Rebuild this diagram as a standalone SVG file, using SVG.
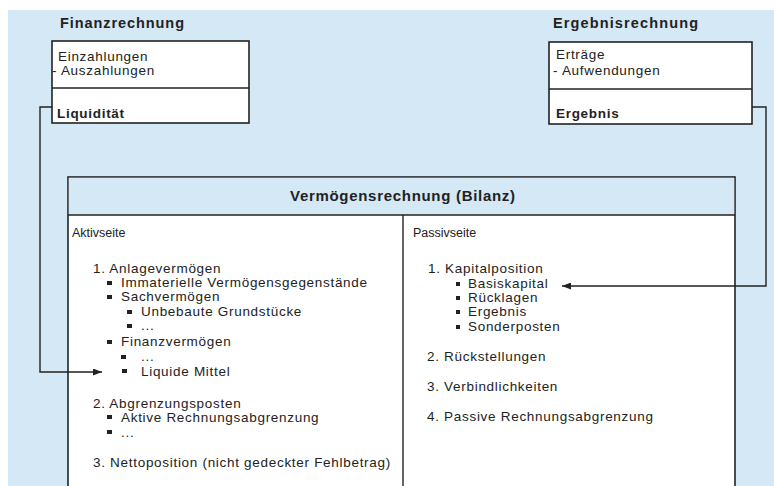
<svg xmlns="http://www.w3.org/2000/svg" width="774" height="486" viewBox="0 0 774 486">
<defs>
<style>
text{font-family:"Liberation Sans",Arial,sans-serif;font-size:13.5px;letter-spacing:0.7px;fill:#222}
.b{font-weight:bold}
.t{font-weight:bold;font-size:14.5px;letter-spacing:0}
.s{font-size:12.5px;letter-spacing:0}
.box{fill:#fff;stroke:#222;stroke-width:1.6}
.ln{fill:none;stroke:#222;stroke-width:1.4}
.bl{fill:#222}
</style>
<marker id="ah" markerWidth="9" markerHeight="7" refX="9" refY="3.5" orient="auto" markerUnits="userSpaceOnUse">
<path d="M0,0 L9,3.5 L0,7 Z" fill="#222"/>
</marker>
</defs>
<rect x="8" y="10" width="766" height="476" fill="#d4e8f6"/>
<g id="finanzrechnung">
<text x="60" y="28" class="t" textLength="124" lengthAdjust="spacing">Finanzrechnung</text>
<rect class="box" x="52" y="41" width="197" height="82"/>
<line class="ln" x1="52" y1="88" x2="249" y2="88"/>
<text x="58" y="61">Einzahlungen</text>
<text x="52" y="75">- Auszahlungen</text>
<text x="57" y="118" class="b">Liquidität</text>
</g>
<g id="ergebnisrechnung">
<text x="553" y="28" class="t" textLength="145" lengthAdjust="spacing">Ergebnisrechnung</text>
<rect class="box" x="549" y="42" width="203" height="82"/>
<line class="ln" x1="549" y1="89" x2="752" y2="89"/>
<text x="556" y="59">Erträge</text>
<text x="553" y="75">- Aufwendungen</text>
<text x="556" y="118" class="b">Ergebnis</text>
</g>
<g id="bilanz">
<rect class="box" x="68" y="177" width="667" height="320"/>
<rect x="68.8" y="177.8" width="665.4" height="37.2" fill="#d4e8f6"/>
<line class="ln" x1="68" y1="215" x2="735" y2="215"/>
<line class="ln" x1="403" y1="215" x2="403" y2="486"/>
<text x="290" y="201" class="t" style="font-size:15px" textLength="225" lengthAdjust="spacing">Vermögensrechnung (Bilanz)</text>
</g>
<g id="aktivseite">
<text x="72" y="237" class="s">Aktivseite</text>
<text x="93" y="273">1. Anlagevermögen</text>
<rect class="bl" x="107" y="281" width="5" height="4"/>
<text x="121" y="287">Immaterielle Vermögensgegenstände</text>
<rect class="bl" x="107" y="295" width="5" height="4"/>
<text x="121" y="301">Sachvermögen</text>
<rect class="bl" x="127" y="310" width="5" height="4"/>
<text x="141" y="316">Unbebaute Grundstücke</text>
<rect class="bl" x="127" y="324" width="5" height="4"/>
<text x="141" y="330">...</text>
<rect class="bl" x="107" y="340" width="5" height="4"/>
<text x="121" y="346">Finanzvermögen</text>
<rect class="bl" x="121" y="355" width="5" height="4"/>
<text x="141" y="361">...</text>
<rect class="bl" x="122" y="369" width="5" height="4"/>
<text x="141" y="376">Liquide Mittel</text>
<text x="93" y="408">2. Abgrenzungsposten</text>
<rect class="bl" x="107" y="415" width="5" height="4"/>
<text x="121" y="422">Aktive Rechnungsabgrenzung</text>
<rect class="bl" x="107" y="430" width="5" height="4"/>
<text x="121" y="437">...</text>
<text x="93" y="467">3. Nettoposition (nicht gedeckter Fehlbetrag)</text>
</g>
<g id="passivseite">
<text x="413" y="237" class="s">Passivseite</text>
<text x="428" y="273">1. Kapitalposition</text>
<rect class="bl" x="456" y="282" width="4" height="4"/>
<text x="468" y="288">Basiskapital</text>
<rect class="bl" x="456" y="296" width="4" height="4"/>
<text x="468" y="302">Rücklagen</text>
<rect class="bl" x="456" y="310" width="4" height="4"/>
<text x="468" y="316">Ergebnis</text>
<rect class="bl" x="456" y="325" width="4" height="4"/>
<text x="468" y="331">Sonderposten</text>
<text x="427" y="361">2. Rückstellungen</text>
<text x="427" y="391">3. Verbindlichkeiten</text>
<text x="427" y="421">4. Passive Rechnungsabgrenzung</text>
</g>
<g id="connectors">
<polyline class="ln" points="52,107 40,107 40,372 102,372" marker-end="url(#ah)"/>
<polyline class="ln" points="752,107 766,107 766,286 562,286" marker-end="url(#ah)"/>
</g>
</svg>
